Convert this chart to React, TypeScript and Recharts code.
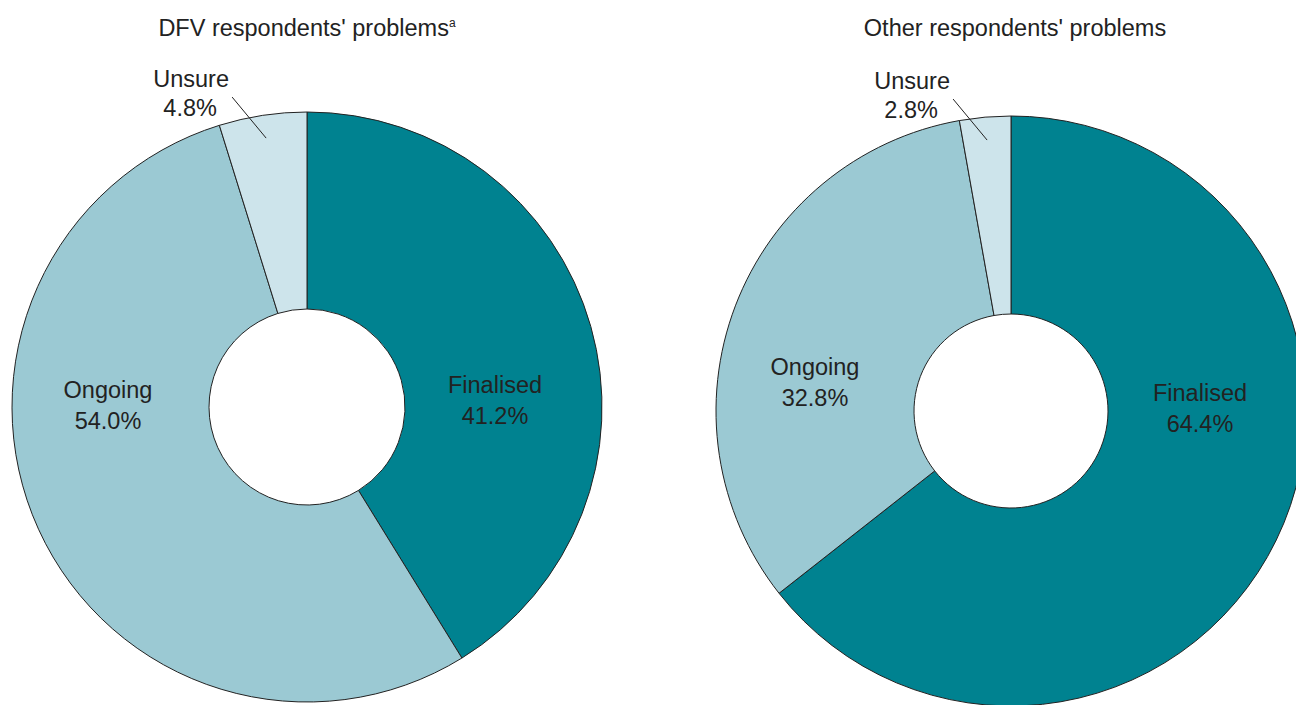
import React from "react";
import { Pie, PieChart } from "recharts";

const categories = ["Finalised", "Ongoing", "Unsure"];
const dfvValues = [41.2, 54.0, 4.8];
const otherValues = [64.4, 32.8, 2.8];
const titles = ["DFV respondents' problems", "Other respondents' problems"];

const colors: Record<string, string> = {
  Finalised: "#008290",
  Ongoing: "#9bc9d3",
  Unsure: "#cde4eb",
};

const FONT = "Arial, 'Liberation Sans', sans-serif";
const FS = 23.5;

const toRows = (values: number[]) =>
  categories.map((name, i) => ({ name, value: values[i], fill: colors[name] }));

const dfvData = toRows(dfvValues);
const otherData = toRows(otherValues);

// label block offsets from the pie centre (inner labels)
const innerOffsets: Record<string, Record<string, [number, number]>> = {
  dfv: { Finalised: [188, -7], Ongoing: [-199, -2] },
  other: { Finalised: [189, -3], Ongoing: [-196, -29] },
};

const RAD = Math.PI / 180;

const makeLabel = (key: string) => (props: any) => {
  const { cx, cy, midAngle, name, value } = props;
  const pct = `${value.toFixed(1)}%`;
  if (name === "Unsure") {
    const x1 = cx + 272 * Math.cos(-midAngle * RAD);
    const y1 = cy + 272 * Math.sin(-midAngle * RAD);
    const x2 = x1 - 34;
    const y2 = y1 - 41;
    return (
      <g>
        <line x1={x1} y1={y1} x2={x2} y2={y2} stroke="#222" strokeWidth={1} />
        <text x={x2 - 41} y={y2 - 18} textAnchor="middle" dominantBaseline="central" fontSize={FS} fontFamily={FONT} fill="#222">
          {name}
        </text>
        <text x={x2 - 42} y={y2 + 11} textAnchor="middle" dominantBaseline="central" fontSize={FS} fontFamily={FONT} fill="#222">
          {pct}
        </text>
      </g>
    );
  }
  const [dx, dy] = innerOffsets[key][name];
  return (
    <g>
      <text x={cx + dx} y={cy + dy - 15} textAnchor="middle" dominantBaseline="central" fontSize={FS} fontFamily={FONT} fill="#222">
        {name}
      </text>
      <text x={cx + dx} y={cy + dy + 16} textAnchor="middle" dominantBaseline="central" fontSize={FS} fontFamily={FONT} fill="#222">
        {pct}
      </text>
    </g>
  );
};

export default function App() {
  return (
    <div style={{ position: "absolute", left: 0, top: 0, width: 1296, height: 705, background: "#fff", overflow: "hidden" }}>
      <div style={{ position: "absolute", left: 107, top: 14, width: 400, textAlign: "center", fontFamily: FONT, fontSize: 23.5, lineHeight: "28px", color: "#222" }}>
        {titles[0]}
        <sup style={{ fontSize: 12, lineHeight: 0 }}>a</sup>
      </div>
      <div style={{ position: "absolute", left: 815, top: 14, width: 400, textAlign: "center", fontFamily: FONT, fontSize: 23.5, lineHeight: "28px", color: "#222" }}>
        {titles[1]}
      </div>
      <PieChart width={1296} height={705} margin={{ top: 0, right: 0, bottom: 0, left: 0 }} style={{ position: "absolute", left: 0, top: 0 }}>
        <Pie
          data={dfvData}
          dataKey="value"
          nameKey="name"
          cx={307}
          cy={407}
          innerRadius={98}
          outerRadius={295}
          startAngle={90}
          endAngle={-270}
          stroke="#222"
          strokeWidth={1}
          label={makeLabel("dfv")}
          labelLine={false}
          isAnimationActive={false}
        />
        <Pie
          data={otherData}
          dataKey="value"
          nameKey="name"
          cx={1011}
          cy={411}
          innerRadius={97}
          outerRadius={295}
          startAngle={90}
          endAngle={-270}
          stroke="#222"
          strokeWidth={1}
          label={makeLabel("other")}
          labelLine={false}
          isAnimationActive={false}
        />
      </PieChart>
    </div>
  );
}
